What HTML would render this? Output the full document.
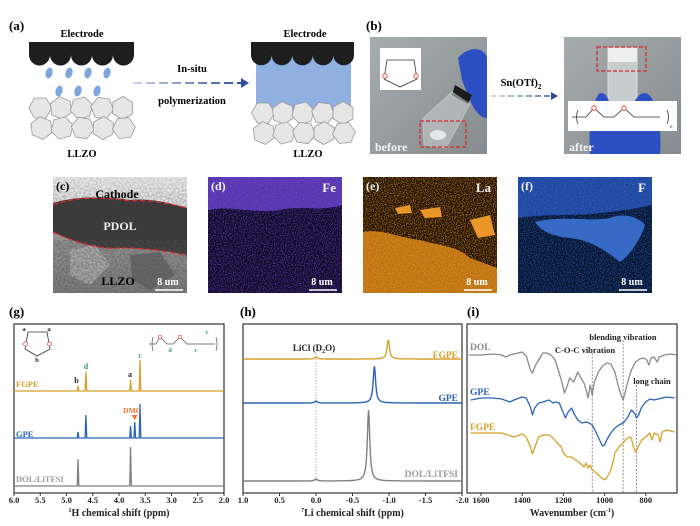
<!DOCTYPE html>
<html><head><meta charset="utf-8">
<style>
html,body{margin:0;padding:0;background:#fff;}
svg{display:block;font-family:"Liberation Serif",serif;}
.b{font-weight:bold;}
</style></head>
<body>
<svg id="fig" width="700" height="526" viewBox="0 0 700 526" xmlns="http://www.w3.org/2000/svg">
<defs>
 <filter id="speck" x="0" y="0" width="100%" height="100%">
  <feTurbulence type="fractalNoise" baseFrequency="0.9" numOctaves="2" seed="3" result="n"/>
  <feColorMatrix in="n" type="matrix" values="0 0 0 0 0  0 0 0 0 0  0 0 0 0 0  4 0 0 0 -1.8" result="a"/>
  <feComposite in="SourceGraphic" in2="a" operator="in"/>
 </filter>
 <filter id="speck2" x="0" y="0" width="100%" height="100%">
  <feTurbulence type="fractalNoise" baseFrequency="0.5" numOctaves="3" seed="7" result="n"/>
  <feColorMatrix in="n" type="matrix" values="0 0 0 0 0  0 0 0 0 0  0 0 0 0 0  3 0 0 0 -1.1" result="a"/>
  <feComposite in="SourceGraphic" in2="a" operator="in"/>
 </filter>
 <linearGradient id="arrG" gradientUnits="userSpaceOnUse" x1="133" y1="0" x2="245" y2="0"><stop offset="0" stop-color="#c9d6f0"/><stop offset="1" stop-color="#2b4fa6"/></linearGradient>
 <linearGradient id="arrG2" gradientUnits="userSpaceOnUse" x1="490" y1="0" x2="555" y2="0"><stop offset="0" stop-color="#c9d6f0"/><stop offset="1" stop-color="#2b4fa6"/></linearGradient>
 <linearGradient id="photoG" x1="0" y1="0" x2="1" y2="1"><stop offset="0" stop-color="#a7adaf"/><stop offset="1" stop-color="#868c8e"/></linearGradient>
 <linearGradient id="semG" x1="0" y1="0" x2="0" y2="1"><stop offset="0" stop-color="#d0d0d0"/><stop offset="0.4" stop-color="#9a9a9a"/><stop offset="1" stop-color="#7a7a7a"/></linearGradient>
</defs>

<!-- ===== (a) ===== -->
<g>
 <text x="9" y="30" font-size="13" class="b">(a)</text>
 <text x="82" y="37" font-size="10.5" class="b" text-anchor="middle">Electrode</text>
 <path fill="#1e1e1e" d="M29,42 H134 V55 A10.5,10.5 0 0 1 113,55 A10.5,10.5 0 0 1 92,55 A10.5,10.5 0 0 1 71,55 A10.5,10.5 0 0 1 50,55 A10.5,10.5 0 0 1 29,55 Z"/>
 <g fill="#7ea6dc">
  <ellipse cx="49" cy="73" rx="3.5" ry="5.5" transform="rotate(15 49 73)"/>
  <ellipse cx="69" cy="73" rx="3.5" ry="5.5" transform="rotate(15 69 73)"/>
  <ellipse cx="88" cy="73" rx="3.5" ry="5.5" transform="rotate(15 88 73)"/>
  <ellipse cx="107" cy="73" rx="3.5" ry="5.5" transform="rotate(15 107 73)"/>
  <ellipse cx="59" cy="91" rx="3.5" ry="5.5" transform="rotate(15 59 91)"/>
  <ellipse cx="78" cy="91" rx="3.5" ry="5.5" transform="rotate(15 78 91)"/>
  <ellipse cx="97" cy="91" rx="3.5" ry="5.5" transform="rotate(15 97 91)"/>
 </g>
 <g id="llzoL" fill="#e6e6e6" stroke="#9a9a9a" stroke-width="0.8"></g>
 <text x="82" y="157" font-size="10.5" class="b" text-anchor="middle">LLZO</text>

 <text x="192" y="72" font-size="10.5" class="b" text-anchor="middle">In-situ</text>
 <line x1="133" y1="83" x2="242" y2="83" stroke="url(#arrG)" stroke-width="2" stroke-dasharray="9,4"/>
 <polygon points="241,78 249,83 241,88" fill="#2b4fa6"/>
 <text x="192" y="104" font-size="10.5" class="b" text-anchor="middle">polymerization</text>

 <text x="305" y="37" font-size="10.5" class="b" text-anchor="middle">Electrode</text>
 <rect x="256" y="56" width="95" height="56" fill="#8fb0e0"/>
 <path fill="#1e1e1e" d="M251,42 H354 V55 A10.3,10.3 0 0 1 333.4,55 A10.3,10.3 0 0 1 312.8,55 A10.3,10.3 0 0 1 292.2,55 A10.3,10.3 0 0 1 271.6,55 A10.3,10.3 0 0 1 251,55 Z"/>
 <g id="llzoR" fill="#e6e6e6" stroke="#9a9a9a" stroke-width="0.8"></g>
 <text x="308" y="157" font-size="10.5" class="b" text-anchor="middle">LLZO</text>
</g>

<!-- ===== (b) ===== -->
<g>
 <text x="366" y="30" font-size="13" class="b">(b)</text>
 <g>
  <rect x="370" y="37" width="117" height="117" fill="url(#photoG)"/>
  <path d="M458,58 C470,44 487,48 487,60 L487,118 C480,118 474,110 470,100 L462,80 Z" fill="#2c4fc4"/>
  <path d="M455,85 L472,95 L468,104 L452,95 Z" fill="#1b1b1b"/>
  <path d="M423,118 L452,92 L470,104 L446,148 L424,145 Z" fill="#c9cfd1" opacity="0.55" stroke="#e6eaea" stroke-width="0.8"/>
  <ellipse cx="438" cy="135" rx="8" ry="5" fill="#f2f2f2" opacity="0.8"/>
  <rect x="380" y="48" width="41" height="42" fill="#fff"/>
  <polyline points="384,79 387,60 414,60 417,79 400,87 384,79" fill="none" stroke="#333" stroke-width="0.8"/>
  <circle cx="385" cy="76" r="2.2" fill="#fff" stroke="#e33" stroke-width="0.8"/>
  <circle cx="416" cy="76" r="2.2" fill="#fff" stroke="#e33" stroke-width="0.8"/>
  <rect x="420" y="121" width="46" height="26" fill="none" stroke="#d82a2a" stroke-width="1.3" stroke-dasharray="4,2"/>
  <text x="375" y="151" font-size="12" class="b" fill="#f4f4f4">before</text>
 </g>
 <text x="521" y="86" font-size="10.5" class="b" text-anchor="middle">Sn(OTf)<tspan font-size="7" dy="3">2</tspan></text>
 <line x1="490" y1="96" x2="552" y2="96" stroke="url(#arrG2)" stroke-width="1.6" stroke-dasharray="6,3"/>
 <polygon points="551,92 558,96 551,100" fill="#2b4fa6"/>
 <g>
  <rect x="564" y="37" width="117" height="117" fill="url(#photoG)"/>
  <rect x="608" y="48" width="29" height="56" fill="#c7cccd" stroke="#e8ecec" stroke-width="0.8"/>
  <rect x="608" y="48" width="29" height="14" fill="#eeeeee"/>
  <path d="M590,154 C588,130 592,100 600,93 C608,92 610,104 612,112 L630,112 C634,100 640,90 648,94 C658,102 662,135 660,154 Z" fill="#2c4fc4"/>
  <rect x="597" y="47" width="49" height="24" fill="none" stroke="#d82a2a" stroke-width="1.3" stroke-dasharray="4,2"/>
  <rect x="568" y="101" width="109" height="30" fill="#fff"/>
  <polyline points="572,117 586,117 594,108 604,117 614,117 624,108 634,117 648,117 660,117" fill="none" stroke="#333" stroke-width="0.8"/>
  <circle cx="594" cy="108" r="2.2" fill="#fff" stroke="#e33" stroke-width="0.8"/>
  <circle cx="624" cy="108" r="2.2" fill="#fff" stroke="#e33" stroke-width="0.8"/>
  <path d="M578,110 q-3,7 0,14 M667,110 q3,7 0,14" fill="none" stroke="#333" stroke-width="0.8"/>
  <text x="670" y="128" font-size="5" fill="#333">n</text>
  <text x="569" y="151" font-size="12" class="b" fill="#f4f4f4">after</text>
 </g>
</g>

<!-- ===== (c) SEM ===== -->
<g>
 <rect x="53" y="177" width="134" height="116" fill="url(#semG)"/>
 <rect x="53" y="177" width="134" height="30" fill="#ededed" filter="url(#speck2)"/>
 <path d="M53,203 C80,195 110,197 130,200 C150,198 170,203 187,208 L187,255 C165,250 140,248 120,248 C95,250 70,240 53,232 Z" fill="#3a3a3a"/>
 <path d="M70,250 L95,245 L110,265 L90,285 L70,275 Z" fill="#b5b5b5" opacity="0.7"/>
 <path d="M130,255 L160,252 L175,275 L150,290 L132,280 Z" fill="#5a5a5a" opacity="0.7"/>
 <rect x="53" y="240" width="134" height="53" fill="#555" filter="url(#speck2)" opacity="0.5"/>
 <path d="M53,205 C80,195 110,198 130,201 C150,199 170,204 187,208" fill="none" stroke="#e02a2a" stroke-width="1.3" stroke-dasharray="5,3"/>
 <path d="M53,232 C70,240 95,250 120,248 C140,248 165,250 187,256" fill="none" stroke="#e02a2a" stroke-width="1.3" stroke-dasharray="5,3"/>
 <text x="56" y="190" font-size="12" class="b">(c)</text>
 <text x="117" y="198" font-size="12" class="b" text-anchor="middle">Cathode</text>
 <text x="120" y="230" font-size="12" class="b" text-anchor="middle" fill="#eee">PDOL</text>
 <text x="118" y="285" font-size="12" class="b" text-anchor="middle">LLZO</text>
 <text x="168" y="285" font-size="10" class="b" text-anchor="middle" fill="#fff">8 um</text>
 <line x1="155" y1="290" x2="183" y2="290" stroke="#fff" stroke-width="1.5"/>
</g>
<!-- ===== (d) Fe ===== -->
<g>
 <rect x="208" y="177" width="134" height="116" fill="#0e0820"/>
 <path d="M208,177 H342 V205 C320,212 300,205 280,210 C255,214 230,205 208,210 Z" fill="#6d44d6" opacity="0.75"/>
 <rect x="208" y="177" width="134" height="116" fill="#7a4ff0" filter="url(#speck)" opacity="0.6"/>
 <text x="211" y="190" font-size="12" class="b" fill="#f0f0f0">(d)</text>
 <text x="336" y="192" font-size="13" class="b" fill="#f4f4f4" text-anchor="end">Fe</text>
 <text x="322" y="285" font-size="10" class="b" text-anchor="middle" fill="#fff">8 um</text>
 <line x1="309" y1="290" x2="337" y2="290" stroke="#fff" stroke-width="1.5"/>
</g>
<!-- ===== (e) La ===== -->
<g>
 <rect x="363" y="177" width="134" height="116" fill="#1c1004"/>
 <path d="M363,232 C380,228 400,238 420,240 C440,246 455,245 470,258 C480,262 490,265 497,268 V293 H363 Z" fill="#e28b1c" opacity="0.8"/>
 <path d="M395,208 L410,205 L412,213 L398,214 Z M420,210 L440,207 L442,217 L425,218 Z M470,220 L490,215 L495,235 L478,238 Z" fill="#e8952a"/>
 <rect x="363" y="177" width="134" height="116" fill="#f09a25" filter="url(#speck)" opacity="0.65"/>
 <text x="366" y="190" font-size="12" class="b" fill="#f0f0f0">(e)</text>
 <text x="491" y="192" font-size="13" class="b" fill="#f4f4f4" text-anchor="end">La</text>
 <text x="477" y="285" font-size="10" class="b" text-anchor="middle" fill="#fff">8 um</text>
 <line x1="464" y1="290" x2="492" y2="290" stroke="#fff" stroke-width="1.5"/>
</g>
<!-- ===== (f) F ===== -->
<g>
 <rect x="518" y="177" width="134" height="116" fill="#06142c"/>
 <path d="M518,177 H652 V205 C630,210 610,212 590,214 C560,216 540,214 518,218 Z" fill="#2552b8" opacity="0.8"/>
 <path d="M535,222 C560,215 590,222 610,218 C625,212 640,218 645,225 C640,240 630,255 620,262 C605,250 590,240 570,238 C550,236 540,230 535,222 Z" fill="#3f78dc" opacity="0.85"/>
 <rect x="518" y="177" width="134" height="116" fill="#3a6fe0" filter="url(#speck)" opacity="0.55"/>
 <text x="521" y="190" font-size="12" class="b" fill="#f0f0f0">(f)</text>
 <text x="646" y="192" font-size="13" class="b" fill="#f4f4f4" text-anchor="end">F</text>
 <text x="632" y="285" font-size="10" class="b" text-anchor="middle" fill="#fff">8 um</text>
 <line x1="619" y1="290" x2="647" y2="290" stroke="#fff" stroke-width="1.5"/>
</g>

<!-- ===== labels for charts ===== -->
<text x="9" y="316" font-size="13" class="b">(g)</text>
<text x="240" y="316" font-size="13" class="b">(h)</text>
<text x="467" y="316" font-size="13" class="b">(i)</text>

<g id="gChart"></g>
<g id="hChart"></g>
<g id="iChart"></g>
</svg>

<script>
// ---------- (g) 1H NMR data ----------
const gTicks = [6.0,5.5,5.0,4.5,4.0,3.5,3.0,2.5,2.0];
const gFgpePos = [4.78,4.63,3.78,3.60];
const gFgpeInt = [5,19,11,31];
const gGpePos = [4.78,4.63,3.78,3.70,3.60];
const gGpeInt = [6,23,12,16,34];
const gDolPos = [4.78,3.78];
const gDolInt = [27,39];
// ---------- (h) 7Li NMR data ----------
const hTicks = [1.0,0.5,0.0,-0.5,-1.0,-1.5,-2.0];
const hSeries = ['FGPE','GPE','DOL/LiTFSI'];
const hPeakPos = [-0.99,-0.80,-0.72];
const hPeakInt = [19,37,71];
const hRefPos = [0.0,0.0,0.0];
const hRefInt = [2,2,2];
// ---------- (i) FTIR data ----------
const iTicks = [1600,1400,1200,1000,800];
const iDolWn = [1660,1600,1540,1500,1480,1460,1420,1400,1380,1360,1350,1335,1320,1300,1280,1260,1240,1225,1210,1195,1180,1170,1150,1130,1115,1100,1090,1080,1070,1060,1050,1030,1010,990,970,950,935,920,910,900,885,870,850,830,810,795,785,775,760,745,735,710,680,650];
const iDolVal = [145,145,146,145,143,145,147,148,144,130,127,135,140,147,147,145,140,130,120,107,115,122,118,128,122,117,110,102,115,105,118,128,134,137,136,128,115,105,100,108,120,130,138,141,142,140,135,142,143,138,143,145,146,145];
const iGpeWn = [1650,1600,1540,1500,1460,1440,1400,1380,1360,1350,1340,1320,1300,1270,1250,1240,1220,1210,1190,1180,1160,1150,1130,1110,1090,1075,1060,1040,1020,1010,1000,990,970,950,930,910,890,870,855,845,835,820,800,780,760,740,720,700,660];
const iGpeVal = [100,102,102,101,98,100,103,102,93,85,92,97,98,100,97,98,97,92,82,87,92,87,80,77,78,77,75,67,58,54,55,60,67,72,75,77,82,90,87,82,85,93,98,101,100,101,102,103,102];
const iFgpeWn = [1650,1600,1500,1470,1440,1400,1380,1360,1350,1340,1320,1300,1270,1250,1230,1210,1200,1180,1160,1140,1120,1100,1090,1080,1070,1060,1040,1020,1000,990,970,960,950,930,910,900,880,870,860,850,840,820,800,780,770,760,740,730,720,700,660];
const iFgpeVal = [67,67,67,65,63,66,63,53,46,52,63,65,65,62,57,53,47,43,43,40,37,33,37,32,35,30,27,23,20,22,30,37,47,53,57,60,63,62,53,48,52,60,63,67,60,67,65,58,68,70,68];
const iMarkers = [1060,910,845];

const NS='http://www.w3.org/2000/svg';
function mk(parent,tag,attrs){const e=document.createElementNS(NS,tag);for(const k in attrs)e.setAttribute(k,attrs[k]);parent.appendChild(e);return e;}
function txt(parent,x,y,s,size,fill,anchor){const e=mk(parent,'text',{x:x,y:y,'font-size':size,'font-weight':'bold',fill:fill||'#222','text-anchor':anchor||'start'});e.textContent=s;return e;}

function grains(gid,x0,y0,w){const g=document.getElementById(gid);const cols=5;const cw=w/cols;
 for(let r=0;r<2;r++)for(let c=0;c<cols;c++){const cx=x0+cw*c+cw/2+(r?cw*0.3:0)-(r?5:0),cy=y0+10+r*20,rad=11.5;let pts=[];
  for(let k=0;k<6;k++){const a=Math.PI/3*k+(r+c)*0.4;pts.push((cx+rad*Math.cos(a)).toFixed(1)+','+(cy+rad*Math.sin(a)).toFixed(1));}
  const p=mk(g,'polygon',{points:pts.join(' ')});
  
  }}
grains('llzoL',30,98,103);grains('llzoR',253,103,100);

const box={t:324,b:493};
function drawAxis(g,x0,x1,ticks,xs,title,titleSup,fmt){
 const f=mk(g,'rect',{x:x0,y:box.t,width:x1-x0,height:box.b-box.t,fill:'none',stroke:'#333','stroke-width':1.2});
 
 
 ticks.forEach(t=>{const x=xs(t);mk(g,'line',{x1:x,x2:x,y1:box.b,y2:box.b+3,stroke:'#333'});
  const l=txt(g,x,503,fmt(t),8.5,'#222','middle');
  
  });
 const tt=mk(g,'text',{x:(x0+x1)/2,y:516,'font-size':10,'font-weight':'bold','text-anchor':'middle',fill:'#222'});
 
 
 tt.innerHTML=title;
}

(function(){
 const g=document.getElementById('gChart');const x0=14,x1=224;
 const xs=v=>x0+(6.0-v)/(6.0-2.0)*(x1-x0);
 drawAxis(g,x0,x1,gTicks,xs,'<tspan font-size="6" dy="-4">1</tspan><tspan dy="4">H chemical shift (ppm)</tspan>',0,v=>v.toFixed(1));
 function trace(pos,ints,base,color,name){let d='M'+x0+','+base;
  const sorted=pos.map((p,i)=>[xs(p),ints[i]]).sort((a,b)=>a[0]-b[0]);
  sorted.forEach(([x,h])=>{d+=' L'+(x-0.8)+','+base+' L'+x+','+(base-h)+' L'+(x+0.8)+','+base;});
  d+=' L'+x1+','+base;
  const p=mk(g,'path',{d:d,fill:'none',stroke:color,'stroke-width':1.3});
  
  }
 trace(gFgpePos,gFgpeInt,391,'#d6a12a','fgpe-trace');
 trace(gGpePos,gGpeInt,438,'#2a63b8','gpe-trace');
 trace(gDolPos,gDolInt,486,'#808080','dol-litfsi-trace');
 txt(g,16,387,'FGPE',8.5,'#d6a12a');txt(g,16,437,'GPE',8.5,'#2a63b8');txt(g,16,482,'DOL/LiTFSI',8.5,'#9a9a9a');
 txt(g,xs(4.81),383,'b',8,'#222','middle');txt(g,xs(4.63),369,'d',8,'#3a9a70','middle');
 txt(g,xs(3.79),377,'a',8,'#222','middle');txt(g,xs(3.60),358,'c',8,'#3a9a70','middle');
 txt(g,xs(3.75),413,'DMC',7.5,'#f07030','middle');
 mk(g,'polygon',{points:(xs(3.70)-3)+',415 '+(xs(3.70)+3)+',415 '+xs(3.70)+',420',fill:'#f07030'});
 mk(g,'polyline',{points:'25,349 28,332 47,332 50,349 37,356 25,349',fill:'none',stroke:'#333','stroke-width':0.8});
 mk(g,'circle',{cx:25.5,cy:344,r:2,fill:'#fff',stroke:'#e33','stroke-width':0.7});
 mk(g,'circle',{cx:49.5,cy:344,r:2,fill:'#fff',stroke:'#e33','stroke-width':0.7});
 txt(g,24,331,'a',6.5,'#222','middle');txt(g,49,331,'a',6.5,'#222','middle');txt(g,37,362,'b',6.5,'#222','middle');
 mk(g,'polyline',{points:'149,344 156,344 160,337 167,344 173,344 180,337 187,344 196,344 205,344 215,344',fill:'none',stroke:'#555','stroke-width':0.7});
 mk(g,'circle',{cx:160,cy:337,r:1.8,fill:'#fff',stroke:'#e33','stroke-width':0.6});
 mk(g,'circle',{cx:180,cy:337,r:1.8,fill:'#fff',stroke:'#e33','stroke-width':0.6});
 mk(g,'path',{d:'M153,337 q-2,7 0,14 M216,337 q2,7 0,14',fill:'none',stroke:'#555','stroke-width':0.7});
 txt(g,170,352,'d',6.5,'#3a9a70','middle');txt(g,196,352,'c',6.5,'#3a9a70','middle');txt(g,207,334,'c',6.5,'#3a9a70','middle');
})();

(function(){
 const g=document.getElementById('hChart');const x0=243,x1=462;
 const xs=v=>x0+(1.0-v)/(1.0-(-2.0))*(x1-x0);
 drawAxis(g,x0,x1,hTicks,xs,'<tspan font-size="6" dy="-4">7</tspan><tspan dy="4">Li chemical shift (ppm)</tspan>',0,v=>v.toFixed(1));
 const bases=[359,403,481],colors=['#d6a12a','#2a63b8','#808080'],names=['fgpe-trace','gpe-trace','dol-litfsi-trace'];
 mk(g,'line',{x1:xs(0),x2:xs(0),y1:353,y2:481,stroke:'#888','stroke-width':0.7,'stroke-dasharray':'1.5,1.5'});
 hSeries.forEach((s,i)=>{let d='';const w=0.02,wr=0.02;
  for(let px=x0;px<=x1;px+=0.5){const v=1.0-(px-x0)/(x1-x0)*3.0;
   const y=bases[i]-hPeakInt[i]*w*w/((v-hPeakPos[i])**2+w*w)-hRefInt[i]*wr*wr/((v-hRefPos[i])**2+wr*wr);
   d+=(d?' L':'M')+px.toFixed(1)+','+y.toFixed(1);}
  const p=mk(g,'path',{d:d,fill:'none',stroke:colors[i],'stroke-width':1.4});
  
  });
 txt(g,458,358,'FGPE',9.5,'#d6a12a','end');txt(g,458,401,'GPE',9.5,'#2a63b8','end');txt(g,458,477,'DOL/LiTFSI',9.5,'#9a9a9a','end');
 const l=mk(g,'text',{x:314,y:351,'font-size':9,'font-weight':'bold','text-anchor':'middle',fill:'#222'});
 l.innerHTML='LiCl (D<tspan font-size="6" dy="2">2</tspan><tspan dy="-2">O)</tspan>';
})();

(function(){
 const g=document.getElementById('iChart');const x0=467,x1=677;
 const xs=v=>481+(1600-v)*0.206;
 const ys=v=>500-v;
 drawAxis(g,x0,x1,iTicks,xs,'Wavenumber (cm<tspan font-size="6" dy="-4">-1</tspan><tspan dy="4">)</tspan>',0,v=>String(v));
 iMarkers.forEach((m,i)=>{const l=mk(g,'line',{x1:xs(m),x2:xs(m),y1:i==1?340:(i==0?353:385),y2:493,stroke:'#777','stroke-width':0.8,'stroke-dasharray':'2,1.5'});
  
  });
 function line(wn,val,color,name){const d=wn.map((w,i)=>(i?'L':'M')+xs(w).toFixed(1)+','+ys(val[i]).toFixed(1)).join(' ');
  const p=mk(g,'path',{d:d,fill:'none',stroke:color,'stroke-width':1.3,'stroke-linejoin':'round'});
  
  }
 line(iDolWn,iDolVal,'#8a8a8a','dol-trace');
 line(iGpeWn,iGpeVal,'#2a63b8','gpe-trace');
 line(iFgpeWn,iFgpeVal,'#d6a12a','fgpe-trace');
 txt(g,470,350,'DOL',9.5,'#8a8a8a');txt(g,470,395,'GPE',9.5,'#2a63b8');txt(g,470,430,'FGPE',9.5,'#d6a12a');
 txt(g,585,353,'C-O-C vibration',8.5,'#222','middle');
 txt(g,623,340,'blending vibration',8.5,'#222','middle');
 txt(g,652,384,'long chain',8.5,'#222','middle');
})();
</script>
</body></html>
